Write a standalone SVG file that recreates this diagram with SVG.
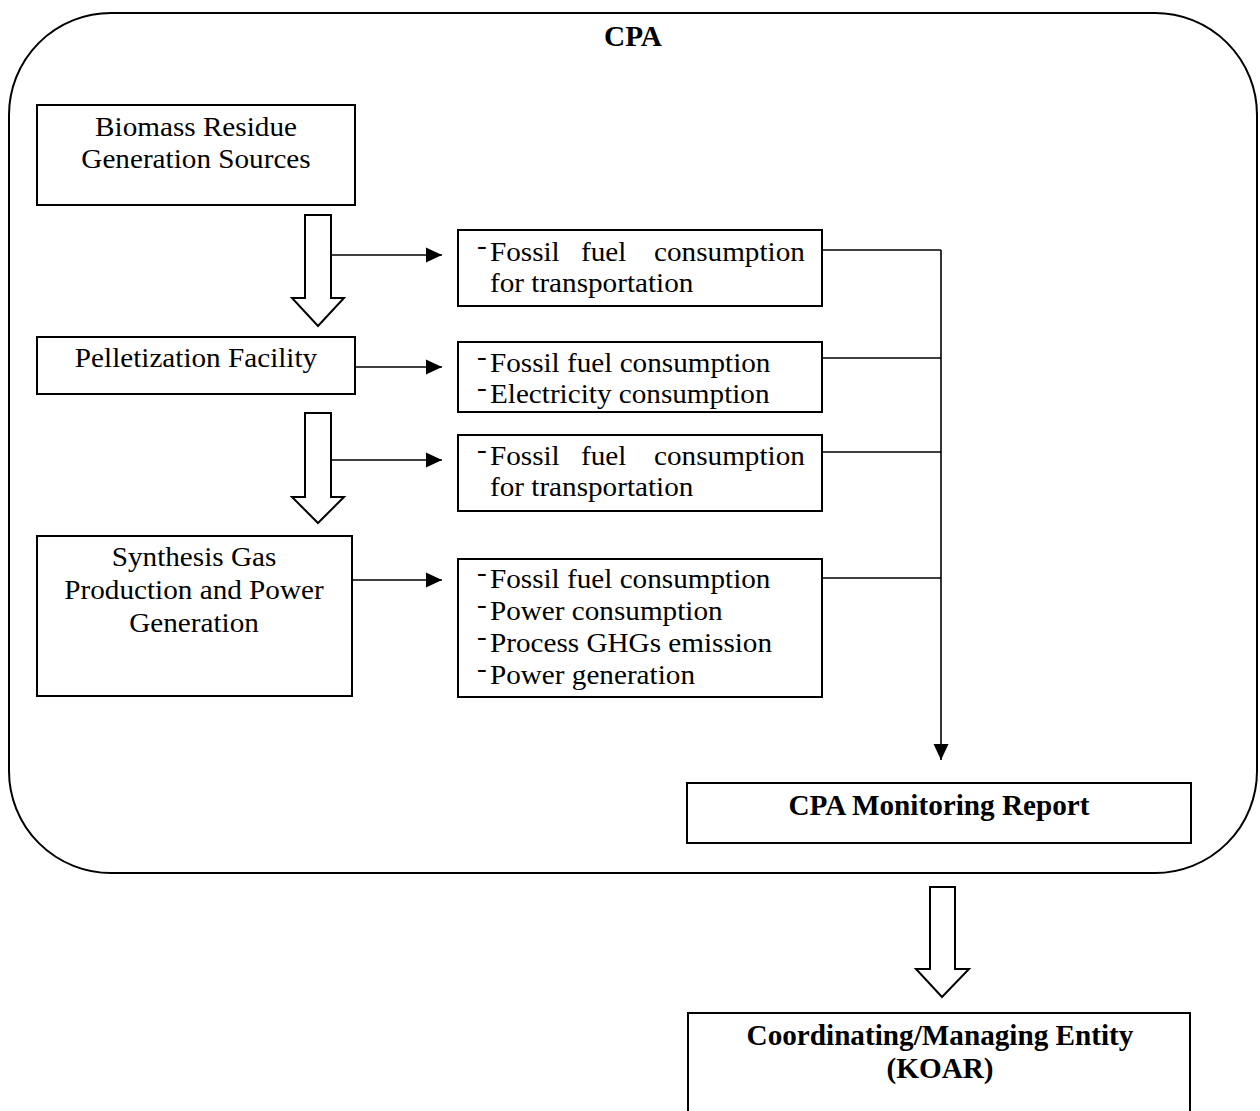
<svg xmlns="http://www.w3.org/2000/svg" width="1260" height="1111" viewBox="0 0 1260 1111">
  <style>
    .box { fill: #fff; stroke: #000; stroke-width: 2; }
    .frame { fill: none; stroke: #000; stroke-width: 2; }
    .hollow { fill: #fff; stroke: #000; stroke-width: 2; stroke-linejoin: miter; }
    .link { fill: none; stroke: #000; stroke-width: 1.6; }
    .r { font-family: "Liberation Serif", "Times New Roman", serif; font-size: 27px; fill: #000; }
    .b { font-family: "Liberation Serif", "Times New Roman", serif; font-size: 29px; font-weight: bold; fill: #000; }
    .c { text-anchor: middle; }
  </style>
  <defs>
    <marker id="tri" markerUnits="userSpaceOnUse" markerWidth="18" markerHeight="18" refX="16" refY="8" orient="auto">
      <path d="M0,0.5 L16,8 L0,15.5 Z" fill="#000"/>
    </marker>
  </defs>

  <rect width="1260" height="1111" fill="#fff"/>

  <!-- CPA boundary -->
  <g id="cpa">
    <rect class="frame" x="9" y="13" width="1248" height="860" rx="102" ry="102"/>
    <text class="b c" transform="matrix(1.007 0 0 1 633 46)">CPA</text>
  </g>

  <!-- process chain -->
  <g id="biomass">
    <rect class="box" x="37" y="105" width="318" height="100"/>
    <text class="r c" transform="matrix(1.081 0 0 1 196 136)">Biomass Residue</text>
    <text class="r c" transform="matrix(1.081 0 0 1 196 168)">Generation Sources</text>
  </g>
  <g id="pelletization">
    <rect class="box" x="37" y="337" width="318" height="57"/>
    <text class="r c" transform="matrix(1.081 0 0 1 196 367)">Pelletization Facility</text>
  </g>
  <g id="synthesis">
    <rect class="box" x="37" y="536" width="315" height="160"/>
    <text class="r c" transform="matrix(1.081 0 0 1 194 566)">Synthesis Gas</text>
    <text class="r c" transform="matrix(1.081 0 0 1 194 599)">Production and Power</text>
    <text class="r c" transform="matrix(1.081 0 0 1 194 632)">Generation</text>
  </g>

  <!-- monitored parameters -->
  <g id="param-transport-1">
    <rect class="box" x="458" y="230" width="364" height="76"/>
    <text class="r" transform="matrix(1.081 0 0 1 477 261)"><tspan dy="-7">-</tspan><tspan x="12" dy="7">Fossil</tspan> <tspan x="96.2">fuel</tspan> <tspan x="163.8">consumption</tspan></text>
    <text class="r" transform="matrix(1.081 0 0 1 477 292)"><tspan x="12">for transportation</tspan></text>
  </g>
  <g id="param-pelletization">
    <rect class="box" x="458" y="342" width="364" height="70"/>
    <text class="r" transform="matrix(1.081 0 0 1 477 372)"><tspan dy="-7">-</tspan><tspan x="12" dy="7">Fossil fuel consumption</tspan></text>
    <text class="r" transform="matrix(1.081 0 0 1 477 403)"><tspan dy="-7">-</tspan><tspan x="12" dy="7">Electricity consumption</tspan></text>
  </g>
  <g id="param-transport-2">
    <rect class="box" x="458" y="435" width="364" height="76"/>
    <text class="r" transform="matrix(1.081 0 0 1 477 465)"><tspan dy="-7">-</tspan><tspan x="12" dy="7">Fossil</tspan> <tspan x="96.2">fuel</tspan> <tspan x="163.8">consumption</tspan></text>
    <text class="r" transform="matrix(1.081 0 0 1 477 496)"><tspan x="12">for transportation</tspan></text>
  </g>
  <g id="param-synthesis">
    <rect class="box" x="458" y="559" width="364" height="138"/>
    <text class="r" transform="matrix(1.081 0 0 1 477 588)"><tspan dy="-7">-</tspan><tspan x="12" dy="7">Fossil fuel consumption</tspan></text>
    <text class="r" transform="matrix(1.081 0 0 1 477 620)"><tspan dy="-7">-</tspan><tspan x="12" dy="7">Power consumption</tspan></text>
    <text class="r" transform="matrix(1.081 0 0 1 477 652)"><tspan dy="-7">-</tspan><tspan x="12" dy="7">Process GHGs emission</tspan></text>
    <text class="r" transform="matrix(1.081 0 0 1 477 684)"><tspan dy="-7">-</tspan><tspan x="12" dy="7">Power generation</tspan></text>
  </g>

  <!-- reporting -->
  <g id="monitoring-report">
    <rect class="box" x="687" y="783" width="504" height="60"/>
    <text class="b c" transform="matrix(1.007 0 0 1 939 815)">CPA Monitoring Report</text>
  </g>
  <g id="koar">
    <rect class="box" x="688" y="1013" width="502" height="120"/>
    <text class="b c" transform="matrix(1.007 0 0 1 940 1045)">Coordinating/Managing Entity</text>
    <text class="b c" transform="matrix(1.007 0 0 1 940 1078)">(KOAR)</text>
  </g>

  <g id="connectors">
    <!-- material flow (block arrows) -->
    <polygon class="hollow" points="305,215 331,215 331,298 344,298 318,326 292,298 305,298"/>
    <polygon class="hollow" points="305,413 331,413 331,497 344,497 318,523 292,497 305,497"/>
    <polygon class="hollow" points="930,887 955,887 955,969 969,969 942,997 916,969 930,969"/>

    <!-- flows to monitored parameters -->
    <line class="link" x1="331" y1="255" x2="442" y2="255" marker-end="url(#tri)"/>
    <line class="link" x1="355" y1="367" x2="442" y2="367" marker-end="url(#tri)"/>
    <line class="link" x1="331" y1="460" x2="442" y2="460" marker-end="url(#tri)"/>
    <line class="link" x1="352" y1="580" x2="442" y2="580" marker-end="url(#tri)"/>

    <!-- collection bus to the report -->
    <line class="link" x1="822" y1="250" x2="941" y2="250"/>
    <line class="link" x1="822" y1="358" x2="941" y2="358"/>
    <line class="link" x1="822" y1="452" x2="941" y2="452"/>
    <line class="link" x1="822" y1="578" x2="941" y2="578"/>
    <line class="link" x1="941" y1="250" x2="941" y2="760" marker-end="url(#tri)"/>
  </g>
</svg>
